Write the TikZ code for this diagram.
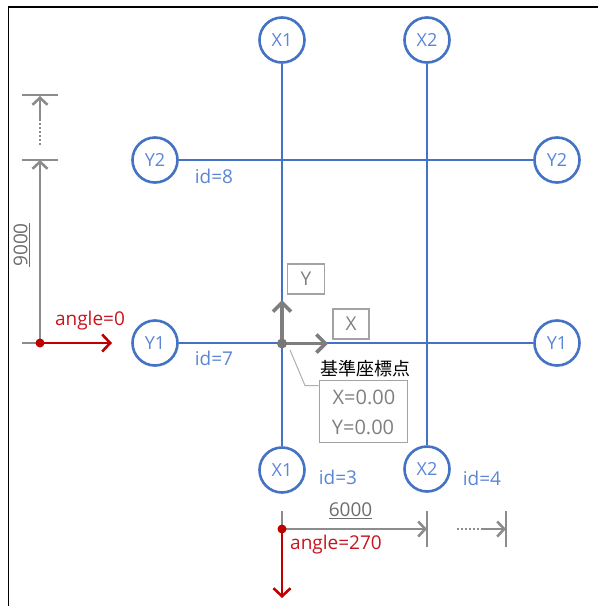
\documentclass[tikz,border=0pt]{standalone}
\usepackage{fontspec}
\setmainfont{Open Sans}
\newfontfamily\cjkfont{Noto Sans CJK JP}
\definecolor{axisblue}{HTML}{4472C4}
\definecolor{idblue}{HTML}{5B86D6}
\definecolor{dimgrey}{HTML}{8C8C8C}
\definecolor{basered}{HTML}{C00000}
\definecolor{redtext}{HTML}{C8141E}
\definecolor{boxtext}{HTML}{808080}
\usetikzlibrary{arrows.meta}
\tikzset{
  x=1pt,y=-1pt,
  axiscircle/.style={circle,draw=axisblue,line width=2.6pt,fill=white,minimum size=45pt,inner sep=0pt,text=idblue,font=\fontsize{18}{20}\selectfont},
  axisline/.style={draw=axisblue,line width=2.6pt},
  idlabel/.style={text=idblue,inner sep=0pt,font=\fontsize{19}{22}\selectfont},
  dimline/.style={draw=dimgrey,line width=2.6pt},
  dimarrow/.style={dimline,-{Straight Barb[length=7pt,width=15pt,line width=2.6pt]}},
  dimdots/.style={draw=dimgrey,line width=2.4pt,dash pattern=on 2pt off 2pt},
  redarrow/.style={draw=basered,line width=2.6pt,-{Straight Barb[length=8pt,width=17pt,line width=2.6pt]}},
  redlabel/.style={text=redtext,inner sep=0pt,font=\fontsize{19}{22}\selectfont},
  origarrow/.style={draw=dimgrey!90!black,line width=3.6pt,-{Straight Barb[length=9pt,width=18pt,line width=3.6pt]}},
  infobox/.style={draw=dimgrey!80,line width=1.6pt,fill=white,text=boxtext,inner sep=0pt,font=\fontsize{19}{22}\selectfont},
  dimtext/.style={text=boxtext!85!black,inner sep=0pt,font=\fontsize{19}{22}\selectfont},
  reddot/.style={circle,fill=basered,inner sep=0pt,minimum size=9pt},
  greydot/.style={circle,fill=dimgrey!85!black,inner sep=0pt,minimum size=10pt},
}
\begin{document}
\begin{tikzpicture}
\useasboundingbox (0,0) rectangle (598,606);
\fill[white] (0,0) rectangle (598,606);
\coordinate (frameA) at (8.5,606);
\coordinate (frameB) at (8.5,7);
\coordinate (frameC) at (598,7);
\draw[black,line width=1.2pt] (frameA) -- (frameB) -- (frameC);

% axis circles
\node[axiscircle] (x1t) at (282,40) {X1};
\node[axiscircle] (x2t) at (427,40) {X2};
\node[axiscircle] (y2l) at (155,160) {Y2};
\node[axiscircle] (y2r) at (557,160) {Y2};
\node[axiscircle] (y1l) at (155,343) {Y1};
\node[axiscircle] (y1r) at (557,343) {Y1};
\node[axiscircle] (x1b) at (282,470) {X1};
\node[axiscircle] (x2b) at (427,469) {X2};
\draw[axisline] (x1t) -- (x1b);
\draw[axisline] (x2t) -- (x2b);
\draw[axisline] (y2l) -- (y2r);
\draw[axisline] (y1l) -- (y1r);

\node[idlabel] (id8) at (214,176.5) {id=8};
\node[idlabel] (id7) at (214,358.5) {id=7};
\node[idlabel] (id3) at (338,477.5) {id=3};
\node[idlabel] (id4) at (482,478.5) {id=4};

% left dimension
\coordinate (ltA) at (22,95);   \coordinate (ltB) at (58,95);
\coordinate (lmA) at (22,160);  \coordinate (lmB) at (58,160);
\coordinate (lbA) at (22,343);  \coordinate (lb) at (40,343);
\coordinate (lm) at (40,160);
\coordinate (ldA) at (40,145);  \coordinate (ldB) at (40,121);
\coordinate (lt) at (40,96);
\draw[dimline,line width=1.8pt] (ltA) -- (ltB);
\draw[dimline,line width=1.8pt] (lmA) -- (lmB);
\draw[dimline] (lbA) -- (lb);
\draw[dimarrow] (lb) -- (lm);
\draw[dimdots] (ldA) -- (ldB);
\draw[dimarrow] (ldB) -- (lt);
\node[dimtext,rotate=90] (d9000) at (21.5,245) {\underline{9000}};
\node[redlabel] (a0) at (90,320.5) {angle=0};
\coordinate (redE) at (112,343);
\draw[redarrow] (lb) -- (redE);
\node[reddot] (rd1) at (lb) {};

% bottom dimension
\coordinate (b0) at (282,529);  \coordinate (b0t) at (282,511);
\coordinate (b1) at (427,529);  \coordinate (b1t) at (427,511); \coordinate (b1b) at (427,547);
\coordinate (b2) at (506,529);  \coordinate (b2t) at (506,511); \coordinate (b2b) at (506,547);
\coordinate (bdA) at (457,529); \coordinate (bdB) at (481,529);
\coordinate (redS) at (282,598);
\draw[dimline] (b0t) -- (b0);
\draw[dimline] (b1t) -- (b1b);
\draw[dimline] (b2t) -- (b2b);
\draw[dimarrow] (b0) -- (b1);
\draw[dimdots] (bdA) -- (bdB);
\draw[dimarrow] (bdB) -- (b2);
\node[dimtext] (d6000) at (350.5,511) {\underline{6000}};
\node[redlabel] (a270) at (336,545) {angle=270};
\draw[redarrow] (b0) -- (redS);
\node[reddot] (rd2) at (b0) {};

% origin
\coordinate (org) at (282,343.5);
\coordinate (orgX) at (328,343.5);
\coordinate (orgY) at (282,300);
\draw[origarrow] (org) -- (orgX);
\draw[origarrow] (org) -- (orgY);
\node[greydot] (od) at (org) {};
\node[infobox,minimum width=37pt,minimum height=30pt] (ybox) at (306,279) {Y};
\node[infobox,minimum width=36pt,minimum height=30pt] (xbox) at (351,324) {X};

% base point
\node[inner sep=0pt,font=\cjkfont\fontsize{18}{20}\selectfont] (kijun) at (365.5,369) {基準座標点};
\node[infobox,minimum width=88pt,minimum height=62pt] (info) at (363.5,411.5) {};
\node[text=boxtext,inner sep=0pt,font=\fontsize{20}{23}\selectfont] (ix) at (364,397) {X=0.00};
\node[text=boxtext,inner sep=0pt,font=\fontsize{20}{23}\selectfont] (iy) at (363,427) {Y=0.00};
\coordinate (ldrA) at (290,350);
\coordinate (ldrB) at (305,385.5);
\draw[draw=dimgrey!70,line width=1pt] (ldrA) -- (ldrB) -- (info.west |- ldrB);
\end{tikzpicture}
\end{document}
